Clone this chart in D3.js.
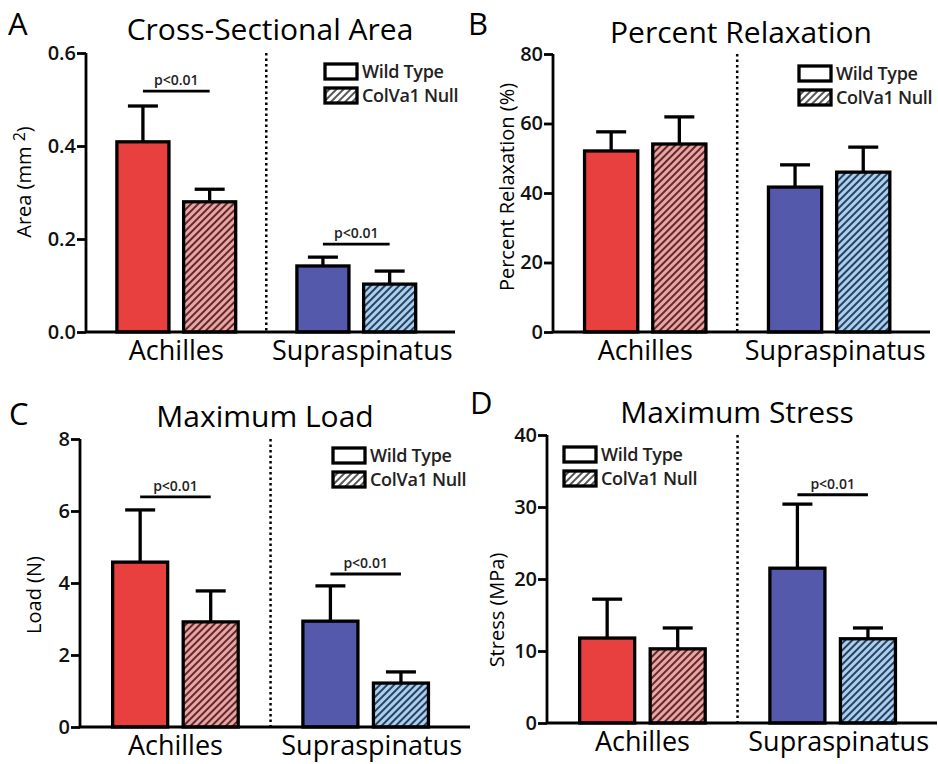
<!DOCTYPE html>
<html>
<head>
<meta charset="utf-8">
<script src="https://cdn.jsdelivr.net/npm/d3@7"></script>
<style>
    body { margin: 0; background: #fff; }
    svg { display: block; font-family: "Open Sans", "Noto Sans", sans-serif; }
</style>
</head>
<body>
<div id="fig"></div>
<script>
// groups and series
const groups = ["Achilles", "Supraspinatus"];
const series = ["Wild Type", "ColVa1 Null"];

// order: Achilles WT, Achilles Null, Supraspinatus WT, Supraspinatus Null
const areaMean = [0.409, 0.280, 0.142, 0.103];
const areaSd = [0.077, 0.027, 0.019, 0.028];
const areaTicks = [0, 0.2, 0.4, 0.6];

const relaxMean = [52.1, 54.1, 41.7, 46.0];
const relaxSd = [5.5, 7.8, 6.4, 7.2];
const relaxTicks = [0, 20, 40, 60, 80];

const loadMean = [4.58, 2.92, 2.94, 1.22];
const loadSd = [1.45, 0.86, 0.98, 0.31];
const loadTicks = [0, 2, 4, 6, 8];

const stressMean = [11.8, 10.3, 21.5, 11.7];
const stressSd = [5.4, 2.9, 8.9, 1.5];
const stressTicks = [0, 10, 20, 30, 40];

// significance bars: group + height in data units
const areaSig = [{ group: "Achilles", y: 0.518 }, { group: "Supraspinatus", y: 0.189 }];
const loadSig = [{ group: "Achilles", y: 6.39 }, { group: "Supraspinatus", y: 4.25 }];
const stressSig = [{ group: "Supraspinatus", y: 31.7 }];

const W = 938, H = 764;
const fills = {
    "Achilles": { solid: "#e8403f", hatch: "url(#hatch-red)" },
    "Supraspinatus": { solid: "#5459ab", hatch: "url(#hatch-blue)" }
};

const svg = d3.select("#fig").append("svg")
    .attr("width", W)
    .attr("height", H);

const defs = svg.append("defs");
function hatch(id, bg, fg) {
    const p = defs.append("pattern")
        .attr("id", id)
        .attr("patternUnits", "userSpaceOnUse")
        .attr("width", 5)
        .attr("height", 5)
        .attr("patternTransform", "rotate(45)");
    p.append("rect").attr("width", 5).attr("height", 5).attr("fill", bg);
    p.append("rect").attr("width", 2).attr("height", 5).attr("fill", fg);
}
hatch("hatch-red", "#eaa4a4", "#5e2a2a");
hatch("hatch-blue", "#aad0f0", "#2b3f5e");
hatch("hatch-legend", "#ffffff", "#555555");

function drawPanel(cfg) {
    const g = svg.append("g").attr("transform", `translate(${cfg.x0}, ${cfg.top})`);
    const h = cfg.bottom - cfg.top;

    const y = d3.scaleLinear().domain(cfg.domain).range([h, 0]);
    const x = d3.scaleBand().domain(groups).range([0, cfg.width])
        .paddingInner(0.34).paddingOuter(0.195).align(0.44);
    const xs = d3.scaleBand().domain(series).range([0, x.bandwidth()]).paddingInner(0.22);

    const rows = [];
    groups.forEach((gr, i) => series.forEach((s, j) => {
        rows.push({ group: gr, series: s, mean: cfg.mean[i * 2 + j], sd: cfg.sd[i * 2 + j] });
    }));

    // panel letter + title
    svg.append("text")
        .attr("x", cfg.letterX).attr("y", cfg.letterY)
        .attr("font-size", 31)
        .text(cfg.letter);
    svg.append("text")
        .attr("x", cfg.titleX).attr("y", cfg.titleY)
        .attr("text-anchor", "middle")
        .attr("font-size", 30)
        .text(cfg.title);

    // bars
    const bx = d => x(d.group) + xs(d.series);
    g.selectAll(".bar").data(rows).join("rect")
        .attr("x", bx)
        .attr("y", d => y(d.mean))
        .attr("width", xs.bandwidth())
        .attr("height", d => h - y(d.mean))
        .attr("fill", d => d.series === series[0] ? fills[d.group].solid : fills[d.group].hatch)
        .attr("stroke", "#000")
        .attr("stroke-width", 3.3);

    // error bars (upper only)
    const cx = d => bx(d) + xs.bandwidth() / 2;
    g.selectAll(".err").data(rows).join("line")
        .attr("x1", cx).attr("x2", cx)
        .attr("y1", d => y(d.mean)).attr("y2", d => y(d.mean + d.sd))
        .attr("stroke", "#000").attr("stroke-width", 3.3);
    g.selectAll(".cap").data(rows).join("line")
        .attr("x1", d => cx(d) - 15).attr("x2", d => cx(d) + 15)
        .attr("y1", d => y(d.mean + d.sd)).attr("y2", d => y(d.mean + d.sd))
        .attr("stroke", "#000").attr("stroke-width", 3.3);

    // dotted divider
    const mid = (x(groups[0]) + x.bandwidth() + x(groups[1])) / 2;
    g.append("line")
        .attr("x1", mid).attr("x2", mid)
        .attr("y1", y(cfg.domain[1])).attr("y2", h)
        .attr("stroke", "#000").attr("stroke-width", 2.5)
        .attr("stroke-dasharray", "2.5,3");

    // significance
    cfg.sig.forEach(s => {
        const a = x(s.group) + xs(series[0]) + xs.bandwidth() / 2;
        const b = x(s.group) + xs(series[1]) + xs.bandwidth() / 2;
        g.append("line")
            .attr("x1", a).attr("x2", b)
            .attr("y1", y(s.y)).attr("y2", y(s.y))
            .attr("stroke", "#000").attr("stroke-width", 2.8);
        g.append("text")
            .attr("x", (a + b) / 2).attr("y", y(s.y) - 6)
            .attr("text-anchor", "middle")
            .attr("font-size", 14)
            .attr("font-weight", 600)
            .attr("fill", "#222")
            .text("p<0.01");
    });

    // axes
    const yAxis = g.append("g")
        .call(d3.axisLeft(y).tickValues(cfg.ticks).tickFormat(cfg.fmt).tickSize(9).tickPadding(1));
    yAxis.select(".domain").attr("stroke-width", 2.8).attr("d", `M0,0V${h}`);
    yAxis.selectAll(".tick line").attr("stroke-width", 2.8);
    yAxis.selectAll(".tick text")
        .attr("font-family", "'Open Sans', sans-serif")
        .attr("font-size", 20).attr("font-weight", 600).attr("fill", "#111");

    g.append("line")
        .attr("x1", 0).attr("x2", cfg.width)
        .attr("y1", h).attr("y2", h)
        .attr("stroke", "#000").attr("stroke-width", 2.8);

    g.selectAll(".cat").data(groups).join("text")
        .attr("x", d => x(d) + x.bandwidth() / 2 + (d === groups[1] ? 6 : 0))
        .attr("y", h + 28)
        .attr("text-anchor", "middle")
        .attr("font-size", 27)
        .text(d => d);

    // y label
    const yl = svg.append("text")
        .attr("transform", `translate(${cfg.ylabX}, ${cfg.ylabY}) rotate(-90)`)
        .attr("text-anchor", "middle")
        .attr("font-size", 20)
        .text(cfg.ylabel);
    if (cfg.sup) {
        yl.append("tspan").attr("font-size", 16).attr("dy", -6).text(cfg.sup);
        yl.append("tspan").attr("dy", 6).text(")");
    }

    // legend
    const lg = svg.append("g").attr("transform", `translate(${cfg.legX}, ${cfg.legY})`);
    series.forEach((s, i) => {
        lg.append("rect")
            .attr("x", 0).attr("y", i * 24)
            .attr("width", 32).attr("height", 15)
            .attr("fill", i === 0 ? "#fff" : "url(#hatch-legend)")
            .attr("stroke", "#000").attr("stroke-width", 3.3);
        lg.append("text")
            .attr("x", 37).attr("y", i * 24 + 14)
            .attr("font-size", 18).attr("font-weight", 600)
            .attr("letter-spacing", -0.3)
            .attr("fill", "#222")
            .text(s);
    });
}

drawPanel({
    letter: "A", letterX: 8, letterY: 35,
    title: "Cross-Sectional Area", titleX: 270, titleY: 40,
    x0: 86, top: 53, bottom: 332, width: 369,
    domain: [0, 0.6], ticks: areaTicks, fmt: d3.format(".1f"),
    mean: areaMean, sd: areaSd, sig: areaSig,
    ylabel: "Area (mm ", sup: "2", ylabX: 31, ylabY: 182,
    legX: 325, legY: 64
});

drawPanel({
    letter: "B", letterX: 468, letterY: 35,
    title: "Percent Relaxation", titleX: 741, titleY: 43,
    x0: 553, top: 54, bottom: 332, width: 377,
    domain: [0, 80], ticks: relaxTicks, fmt: d3.format("d"),
    mean: relaxMean, sd: relaxSd, sig: [],
    ylabel: "Percent Relaxation (%)", ylabX: 514, ylabY: 187,
    legX: 799, legY: 66
});

drawPanel({
    letter: "C", letterX: 9, letterY: 425,
    title: "Maximum Load", titleX: 265, titleY: 427,
    x0: 80, top: 439, bottom: 727, width: 390,
    domain: [0, 8], ticks: loadTicks, fmt: d3.format("d"),
    mean: loadMean, sd: loadSd, sig: loadSig,
    ylabel: "Load (N)", ylabX: 41, ylabY: 595,
    legX: 333, legY: 448
});

drawPanel({
    letter: "D", letterX: 470, letterY: 414,
    title: "Maximum Stress", titleX: 737, titleY: 423,
    x0: 547, top: 435, bottom: 723, width: 390,
    domain: [0, 40], ticks: stressTicks, fmt: d3.format("d"),
    mean: stressMean, sd: stressSd, sig: stressSig,
    ylabel: "Stress (MPa)", ylabX: 504, ylabY: 610,
    legX: 564, legY: 447
});
</script>
</body>
</html>
